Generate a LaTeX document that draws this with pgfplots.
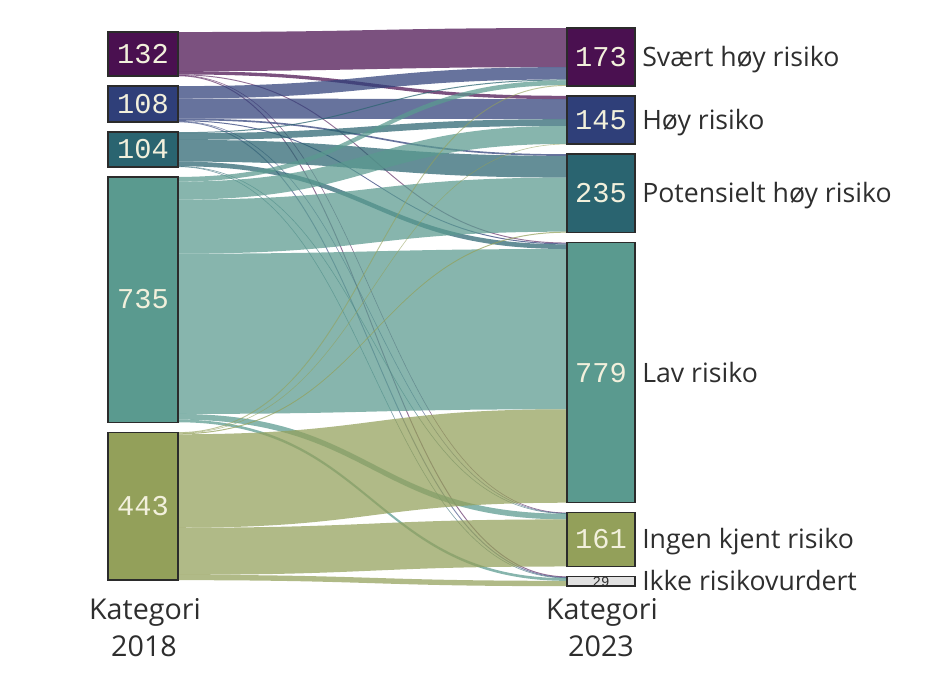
\documentclass[border=0pt]{standalone}
\usepackage{fontspec}
\setmainfont{Open Sans}
\newfontfamily\numfont{Liberation Mono}
\usepackage{pgfplots}
\usepackage{pgfplotstable}
\pgfplotsset{compat=1.18}

\definecolor{src0}{HTML}{4A1050}
\definecolor{src1}{HTML}{2F3F79}
\definecolor{src2}{HTML}{2A6470}
\definecolor{src3}{HTML}{5A9A8F}
\definecolor{src4}{HTML}{93A05A}
\definecolor{tgt1}{HTML}{4A1050}
\definecolor{tgt2}{HTML}{2F3F79}
\definecolor{tgt3}{HTML}{2A6470}
\definecolor{tgt4}{HTML}{5A9A8F}
\definecolor{tgt5}{HTML}{93A05A}
\definecolor{tgt6}{HTML}{E2E2E2}
\definecolor{txt}{HTML}{2E2E2E}
\definecolor{numtxt}{HTML}{F2F0DC}
\definecolor{edge}{HTML}{2B2B2B}

% flows: rows = kategori 2018 (132,108,104,735,443),
% columns = kategori 2023 (173,145,235,779,161,29)
\pgfplotstableread{
t1  t2  t3  t4  t5  t6
117 10  0   2   1   2
37  60  5   3   1   2
3   20  65  14  1   1
14  54  162 480 17  8
2   1   3   280 141 16
}\flows

% x in px, y in value units (1 unit = 0.3338 px)
\def\gap{30}
\def\xl{108}\def\xlr{178}
\def\xr{567}\def\xrr{635}
\def\xmid{372.5}

\begin{document}
\begin{tikzpicture}
\begin{axis}[
    scale only axis,
    width=705pt, height=519pt,
    xmin=0, xmax=940, ymin=0, ymax=2073,
    y dir=reverse,
    hide axis, clip=false,
]
\coordinate (bl) at (rel axis cs:0,0);
\coordinate (tr) at (rel axis cs:1,1);
\pgfplotsextra{%
  % totals
  \foreach \i in {0,...,4}{\expandafter\xdef\csname stot\i\endcsname{0}}%
  \foreach \j in {1,...,6}{%
    \expandafter\xdef\csname ctot\j\endcsname{0}%
    \expandafter\xdef\csname toff\j\endcsname{0}}%
  \foreach \i in {0,...,4}{%
    \foreach \j in {1,...,6}{%
      \pgfplotstablegetelem{\i}{t\j}\of\flows
      \edef\fv{\pgfplotsretval}%
      \edef\va{\csname stot\i\endcsname}%
      \pgfmathtruncatemacro\tmp{\va+\fv}%
      \expandafter\xdef\csname stot\i\endcsname{\tmp}%
      \edef\va{\csname ctot\j\endcsname}%
      \pgfmathtruncatemacro\tmp{\va+\fv}%
      \expandafter\xdef\csname ctot\j\endcsname{\tmp}%
    }%
  }%
  % node tops
  \gdef\acc{96}%
  \foreach \i in {0,...,4}{%
    \expandafter\xdef\csname stop\i\endcsname{\acc}%
    \edef\va{\csname stot\i\endcsname}%
    \pgfmathsetmacro\tmp{\acc+\va+\gap}\xdef\acc{\tmp}%
  }%
  \gdef\acc{84}%
  \foreach \j in {1,...,6}{%
    \expandafter\xdef\csname ctop\j\endcsname{\acc}%
    \edef\va{\csname ctot\j\endcsname}%
    \pgfmathsetmacro\tmp{\acc+\va+\gap}\xdef\acc{\tmp}%
  }%
  % flows
  \foreach \i in {0,...,4}{%
    \gdef\soff{0}%
    \foreach \j in {1,...,6}{%
      \pgfplotstablegetelem{\i}{t\j}\of\flows
      \edef\fv{\pgfplotsretval}%
      \edef\sy{\csname stop\i\endcsname}%
      \edef\ty{\csname ctop\j\endcsname}%
      \edef\tof{\csname toff\j\endcsname}%
      \pgfmathsetmacro\ya{\sy+\soff}\pgfmathsetmacro\yb{\ya+\fv}%
      \pgfmathsetmacro\yc{\ty+\tof}\pgfmathsetmacro\yd{\yc+\fv}%
      \ifnum\fv>2\relax
        \fill[src\i, fill opacity=0.73]
          (axis cs:\xlr,\ya) .. controls (axis cs:\xmid,\ya) and (axis cs:\xmid,\yc) .. (axis cs:\xr,\yc)
          -- (axis cs:\xr,\yd) .. controls (axis cs:\xmid,\yd) and (axis cs:\xmid,\yb) .. (axis cs:\xlr,\yb) -- cycle;
      \else\ifnum\fv>0\relax
        \pgfmathsetmacro\lw{0.2+0.25*\fv}%
        \pgfmathsetmacro\ym{(\ya+\yb)/2}\pgfmathsetmacro\yn{(\yc+\yd)/2}%
        \draw[src\i, draw opacity=0.6, line width=\lw pt]
          (axis cs:\xlr,\ym) .. controls (axis cs:\xmid,\ym) and (axis cs:\xmid,\yn) .. (axis cs:\xr,\yn);
      \fi\fi
      \pgfmathsetmacro\tmp{\soff+\fv}\xdef\soff{\tmp}%
      \pgfmathsetmacro\tmp{\tof+\fv}\expandafter\xdef\csname toff\j\endcsname{\tmp}%
    }%
  }%
  % 2018 nodes
  \foreach \i in {0,...,4}{%
    \edef\sy{\csname stop\i\endcsname}\edef\st{\csname stot\i\endcsname}%
    \pgfmathsetmacro\ye{\sy+\st}%
    \draw[edge, line width=1.1pt, fill=src\i] (axis cs:\xl,\sy) rectangle (axis cs:\xlr,\ye);
    \pgfmathsetmacro\ym{\sy+\st/2+28}%
    \node[anchor=base, text=numtxt, inner sep=0pt, font=\numfont\fontsize{21.5}{21.5}\selectfont]
      at (axis cs:143,\ym) {\st};
  }%
  % 2023 nodes
  \foreach \j/\lab in {1/Svært høy risiko, 2/Høy risiko, 3/Potensielt høy risiko,
                       4/Lav risiko, 5/Ingen kjent risiko, 6/Ikke risikovurdert}{%
    \edef\ty{\csname ctop\j\endcsname}\edef\ct{\csname ctot\j\endcsname}%
    \pgfmathsetmacro\ye{\ty+\ct}%
    \draw[edge, line width=1.1pt, fill=tgt\j] (axis cs:\xr,\ty) rectangle (axis cs:\xrr,\ye);
    \ifnum\j=6\relax
      \pgfmathsetmacro\ym{\ty+\ct/2+14}%
      \node[anchor=base, text=txt, inner sep=0pt, font=\numfont\fontsize{10.5}{10.5}\selectfont]
        at (axis cs:601,\ym) {\ct};
    \else
      \pgfmathsetmacro\ym{\ty+\ct/2+28}%
      \node[anchor=base, text=numtxt, inner sep=0pt, font=\numfont\fontsize{21.5}{21.5}\selectfont]
        at (axis cs:601,\ym) {\ct};
    \fi
    \pgfmathsetmacro\ym{\ty+\ct/2+28}%
    \node[anchor=base west, text=txt, inner sep=0pt, font=\fontsize{20}{24}\selectfont]
      at (axis cs:642,\ym) {\lab};
  }%
}
% column titles
\node[anchor=base, text=txt, inner sep=0pt, font=\fontsize{21.5}{25}\selectfont] at (axis cs:145,1857) {Kategori};
\node[anchor=base, text=txt, inner sep=0pt, font=\fontsize{21.5}{25}\selectfont] at (axis cs:144,1968) {2018};
\node[anchor=base, text=txt, inner sep=0pt, font=\fontsize{21.5}{25}\selectfont] at (axis cs:602,1857) {Kategori};
\node[anchor=base, text=txt, inner sep=0pt, font=\fontsize{21.5}{25}\selectfont] at (axis cs:601,1968) {2023};
\end{axis}
\pgfresetboundingbox
\path (bl) rectangle (tr);
\end{tikzpicture}
\end{document}
